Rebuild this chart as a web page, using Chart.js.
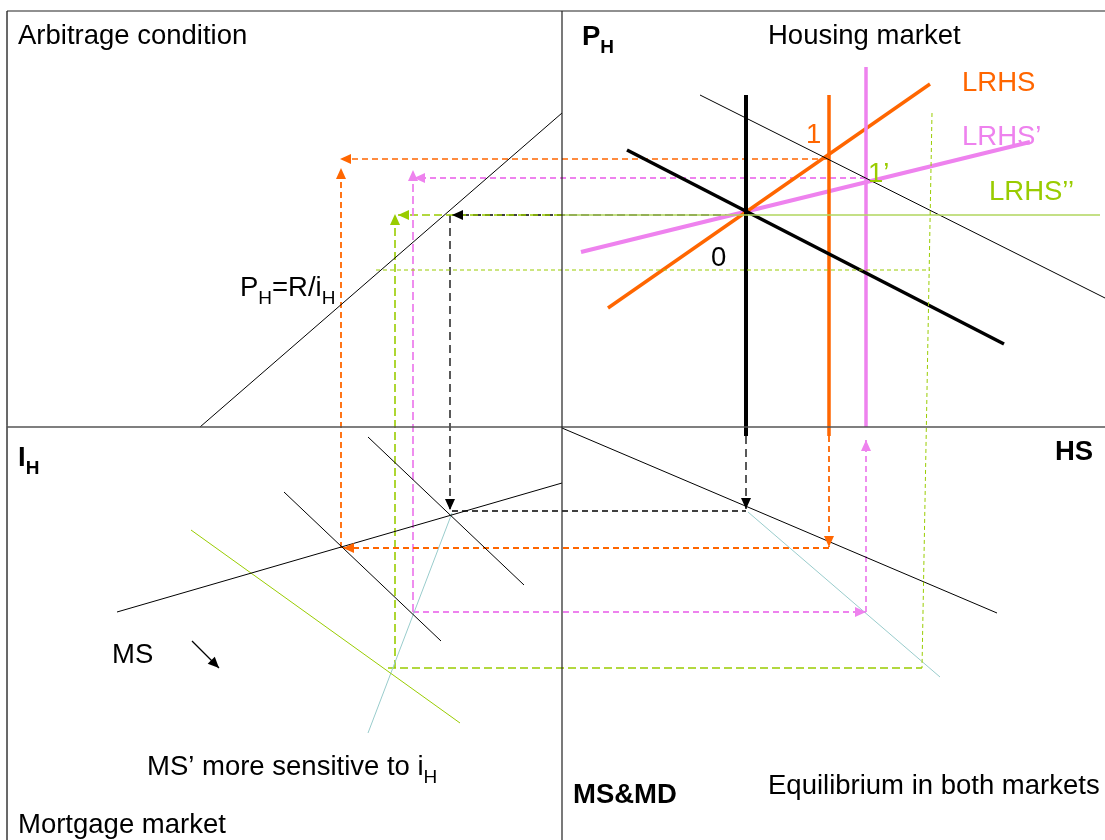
<!DOCTYPE html>
<html>
<head>
<meta charset="utf-8">
<script src="https://cdn.jsdelivr.net/npm/chart.js@4.4.1/dist/chart.umd.min.js"></script>
<style>
  html, body { margin: 0; padding: 0; background: #fff; }
  #wrap { width: 1105px; height: 840px; position: relative; }
</style>
</head>
<body>
<div id="wrap"><canvas id="diagram"></canvas></div>
<script>
// diagram coordinates: x right, y down (same units as the picture)
const frameTop = [[7, 11], [1105, 11]];
const frameLeft = [[7, 11], [7, 840]];
const frameMidV = [[562, 11], [562, 840]];
const frameMidH = [[7, 427], [1105, 427]];

// arbitrage condition P_H = R / i_H
const arbitrage = [[200, 427], [562, 113]];

// housing market
const hdUpper = [[700, 95], [1105, 298]];
const hdLower = [[627, 150], [1004, 344]];
const hsShort = [[746, 95], [746, 436]];
const lrhs = [[608, 308], [930, 84]];
const hsOrange = [[829, 95], [829, 436]];
const lrhsPrime = [[581, 252], [1030, 142]];
const hsPink = [[866, 67], [866, 427]];
const lrhsDouble = [[562, 215], [1100, 215]];

// mortgage market
const msLine = [[117, 612], [562, 483]];
const mdLine1 = [[284, 492], [441, 641]];
const mdLine2 = [[368, 437], [524, 585]];
const msShifted = [[191, 530], [460, 723]];
const msPrimeLeft = [[368, 733], [452, 513]];
const msArrow = [[192, 641], [219, 668]];

// MS & MD vs HS
const hsLine = [[562, 428], [997, 613]];
const msPrimeRight = [[748, 512], [940, 677]];

// projection paths (dashed)
const orangeDown = [[829, 436], [829, 547]];
const orangeBottom = [[829, 548], [343, 548]];
const orangeLeft = [[341, 548], [341, 168]];
const orangeTop = [[828, 159], [340, 159]];

const pinkTop = [[866, 178], [414, 178]];
const pinkLeft = [[413, 612], [413, 170]];
const pinkBottom = [[413, 612], [866, 612]];
const pinkUp = [[866, 612], [866, 440]];

const greenTop = [[562, 215], [398, 215]];
const greenLeft = [[395, 668], [395, 214]];
const greenBottom = [[388, 668], [922, 668]];
const greenRight = [[932, 113], [922, 668]];
const greenMid = [[376, 270], [930, 270]];

const blackTop = [[745, 215], [452, 215]];
const blackLeft = [[450, 215], [450, 510]];
const blackBottom = [[452, 511], [746, 511]];
const blackDown = [[746, 436], [746, 509]];

// labels: text pieces, pieces marked 's' are subscripts
const labelText = [
  [['Arbitrage condition']],
  [['P'], ['H', 's']],
  [['Housing market']],
  [['LRHS']],
  [['LRHS\u2019']],
  [['LRHS\u2019\u2019']],
  [['1']],
  [['1\u2019']],
  [['0']],
  [['P'], ['H', 's'], ['=R/i'], ['H', 's']],
  [['I'], ['H', 's']],
  [['HS']],
  [['MS']],
  [['MS\u2019 more sensitive to i'], ['H', 's']],
  [['Mortgage market']],
  [['MS&MD']],
  [['Equilibrium in both markets']]
];
const labelX = [18, 582, 768, 962, 962, 989, 806, 868, 711, 240, 18, 1055, 112, 147, 18, 573, 768];
const labelY = [44, 45, 44, 91, 145, 200, 143, 182, 266, 296, 466, 460, 663, 775, 833, 803, 794];

const ORANGE = '#ff6600';
const PINK = '#ee82ee';
const GREEN = '#99cc00';
const TEAL = '#99cccc';
const BLACK = '#000000';

const labelColor = [BLACK, BLACK, BLACK, ORANGE, PINK, GREEN, ORANGE, GREEN, BLACK,
  BLACK, BLACK, BLACK, BLACK, BLACK, BLACK, BLACK, BLACK];
const labelBold = [false, true, false, false, false, false, false, false, false,
  false, true, true, false, false, false, true, false];

function seg(points, color, width, dash, arrow) {
  return {
    data: points.map(p => ({ x: p[0], y: p[1] })),
    borderColor: color,
    borderWidth: width,
    borderDash: dash || [],
    showLine: true,
    pointRadius: 0,
    tension: 0,
    fill: false,
    arrow: !!arrow
  };
}

const datasets = [
  seg(frameTop, '#222', 1.2),
  seg(frameLeft, '#555', 1),
  seg(frameMidV, '#222', 1.2),
  seg(frameMidH, '#555', 1.5),

  seg(arbitrage, BLACK, 1),

  seg(greenRight, GREEN, 1, [4, 3]),
  seg(greenMid, GREEN, 1, [4, 3]),
  seg(lrhsDouble, '#b0d65e', 1.5),

  seg(hdUpper, BLACK, 1),
  seg(hdLower, BLACK, 3.5),
  seg(hsShort, BLACK, 4),
  seg(hsOrange, ORANGE, 3.5),
  seg(hsPink, PINK, 3.5),
  seg(lrhs, ORANGE, 3.5),
  seg(lrhsPrime, PINK, 4),

  seg(msLine, BLACK, 1),
  seg(mdLine1, BLACK, 1),
  seg(mdLine2, BLACK, 1),
  seg(msShifted, GREEN, 1),
  seg(msPrimeLeft, TEAL, 1),
  seg(msArrow, BLACK, 1.3, [], true),

  seg(hsLine, BLACK, 1),
  seg(msPrimeRight, TEAL, 1),

  seg(orangeDown, ORANGE, 1.8, [6, 4], true),
  seg(orangeBottom, ORANGE, 1.8, [6, 4], true),
  seg(orangeLeft, ORANGE, 1.8, [6, 4], true),
  seg(orangeTop, ORANGE, 1.5, [6, 4], true),

  seg(pinkTop, PINK, 1.8, [6, 4], true),
  seg(pinkLeft, PINK, 1.8, [8, 4], true),
  seg(pinkBottom, PINK, 1.8, [6, 4], true),
  seg(pinkUp, PINK, 1.8, [6, 4], true),

  seg(greenTop, GREEN, 1.6, [8, 4], true),
  seg(greenLeft, GREEN, 1.6, [8, 4], true),
  seg(greenBottom, GREEN, 1.3, [8, 4]),

  seg(blackTop, BLACK, 1.3, [8, 4], true),
  seg(blackLeft, BLACK, 1.3, [8, 5], true),
  seg(blackBottom, BLACK, 1.3, [6, 4]),
  seg(blackDown, BLACK, 1.3, [8, 5], true)
];

// arrow heads at the end of flagged segments
const arrowHeads = {
  id: 'arrowHeads',
  afterDatasetsDraw(chart) {
    const ctx = chart.ctx;
    const xs = chart.scales.x, ys = chart.scales.y;
    chart.data.datasets.forEach(ds => {
      if (!ds.arrow) return;
      const n = ds.data.length;
      const a = ds.data[n - 2], b = ds.data[n - 1];
      const x1 = xs.getPixelForValue(a.x), y1 = ys.getPixelForValue(a.y);
      const x2 = xs.getPixelForValue(b.x), y2 = ys.getPixelForValue(b.y);
      const ang = Math.atan2(y2 - y1, x2 - x1);
      const len = 11, half = 5;
      ctx.save();
      ctx.translate(x2, y2);
      ctx.rotate(ang);
      ctx.fillStyle = ds.borderColor;
      ctx.beginPath();
      ctx.moveTo(0, 0);
      ctx.lineTo(-len, -half);
      ctx.lineTo(-len, half);
      ctx.closePath();
      ctx.fill();
      ctx.restore();
    });
  }
};

// text labels with subscripts
const textLabels = {
  id: 'textLabels',
  afterDraw(chart) {
    const ctx = chart.ctx;
    const xs = chart.scales.x, ys = chart.scales.y;
    ctx.save();
    ctx.textBaseline = 'alphabetic';
    labelText.forEach((parts, i) => {
      let x = xs.getPixelForValue(labelX[i]);
      const y = ys.getPixelForValue(labelY[i]);
      const weight = labelBold[i] ? 'bold ' : '';
      ctx.fillStyle = labelColor[i];
      parts.forEach(p => {
        const sub = p[1] === 's';
        ctx.font = weight + (sub ? '19px' : '27.5px') + ' "Liberation Sans", Arial, sans-serif';
        ctx.fillText(p[0], x, sub ? y + 8 : y);
        x += ctx.measureText(p[0]).width;
      });
    });
    ctx.restore();
  }
};

new Chart(document.getElementById('diagram'), {
  type: 'scatter',
  data: { datasets: datasets },
  options: {
    responsive: true,
    maintainAspectRatio: false,
    animation: false,
    layout: { padding: 0 },
    plugins: {
      legend: { display: false },
      tooltip: { enabled: false }
    },
    scales: {
      x: { type: 'linear', min: 0, max: 1105, display: false },
      y: { type: 'linear', min: 0, max: 840, reverse: true, display: false }
    }
  },
  plugins: [arrowHeads, textLabels]
});
</script>
</body>
</html>
